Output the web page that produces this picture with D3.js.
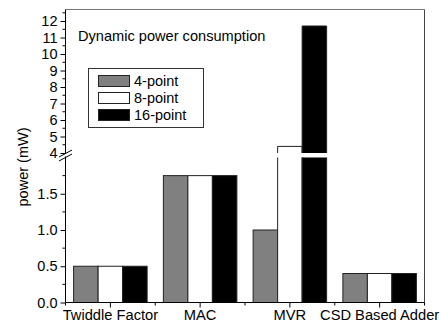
<!DOCTYPE html>
<meta charset="utf-8">
<head>
  <title>Dynamic power consumption</title>
</head>
<style>
  html, body {
    margin: 0;
    background: #fff;
    overflow: hidden;
    font-family: Arial, "Liberation Sans", Helvetica, sans-serif;
  }
  text { fill: #000; }
</style>
<body>
<svg id="chart" width="442" height="322"></svg>
<script src="https://d3js.org/d3.v7.min.js"></script>
<script>
var categories = ['Twiddle Factor', 'MAC', 'MVR', 'CSD Based Adder'];
var seriesNames = ['4-point', '8-point', '16-point'];
var seriesColors = ['#808080', '#ffffff', '#000000'];
// values per series, in category order
var values4 = [0.5, 1.75, 1.0, 0.4];
var values8 = [0.5, 1.75, 4.4, 0.4];
var values16 = [0.5, 1.75, 11.7, 0.4];
var lowTicks = [0, 0.5, 1.0, 1.5];
var highTicks = [4, 5, 6, 7, 8, 9, 10, 11, 12];

var series = [values4, values8, values16];

var svg = d3.select('#chart');
var plotL = 65.5, plotR = 424.5, plotB = 302.5, plotT = 9.5;

// broken y axis: lower part 0..2, upper part 4..12.7
var yLow = d3.scaleLinear().domain([0, 2]).range([plotB, 157.5]);
var yHigh = d3.scaleLinear().domain([4, 12.7]).range([153, plotT]);

var x = d3.scaleBand().domain(categories).range([plotL, plotR]);
var groupW = 73.5;
var inner = d3.scaleBand().domain(d3.range(series.length)).range([0, groupW]);

// frame
svg.append('line').attr('x1', plotL).attr('x2', plotR).attr('y1', plotT).attr('y2', plotT)
  .attr('stroke', '#777');
svg.append('line').attr('x1', plotR).attr('x2', plotR).attr('y1', plotT).attr('y2', plotB)
  .attr('stroke', '#444');

// bars
var g = svg.append('g');
series.forEach(function(vals, s) {
  vals.forEach(function(v, i) {
    var x0 = x(categories[i]) + (x.bandwidth() - groupW) / 2 + inner(s);
    var x1 = x0 + inner.bandwidth();
    var fill = seriesColors[s];
    if (v <= 2) {
      g.append('rect').attr('x', x0).attr('y', yLow(v))
        .attr('width', x1 - x0).attr('height', yLow(0) - yLow(v))
        .attr('fill', fill).attr('stroke', '#222').attr('stroke-width', 1);
    } else {
      // lower piece, open at top
      g.append('rect').attr('x', x0).attr('y', yLow(2))
        .attr('width', x1 - x0).attr('height', yLow(0) - yLow(2))
        .attr('fill', fill);
      g.append('path')
        .attr('d', 'M' + x0 + ',' + yLow(2) + 'V' + yLow(0) + 'H' + x1 + 'V' + yLow(2))
        .attr('fill', 'none').attr('stroke', '#222');
      // upper piece, open at bottom
      g.append('rect').attr('x', x0).attr('y', yHigh(v))
        .attr('width', x1 - x0).attr('height', yHigh(4) - yHigh(v))
        .attr('fill', fill);
      g.append('path')
        .attr('d', 'M' + x0 + ',' + yHigh(4) + 'V' + yHigh(v) + 'H' + x1 + 'V' + yHigh(4))
        .attr('fill', 'none').attr('stroke', '#222');
    }
  });
});

// y axes
var axisLow = d3.axisLeft(yLow).tickValues(lowTicks).tickFormat(d3.format('.1f'))
  .tickSizeInner(5).tickSizeOuter(0).tickPadding(3);
var gl = svg.append('g').attr('transform', 'translate(' + plotL + ',0)').call(axisLow);
gl.select('.domain').remove();
svg.append('g').selectAll('line').data([0.25, 0.75, 1.25, 1.75]).join('line')
  .attr('x1', plotL - 3).attr('x2', plotL)
  .attr('y1', function(d) { return yLow(d); }).attr('y2', function(d) { return yLow(d); })
  .attr('stroke', '#000');

var axisHigh = d3.axisLeft(yHigh).tickValues(highTicks).tickFormat(d3.format('d'))
  .tickSizeInner(5).tickSizeOuter(0).tickPadding(3);
var gh = svg.append('g').attr('transform', 'translate(' + plotL + ',0)').call(axisHigh);
gh.select('.domain').remove();
svg.append('g').selectAll('line').data(d3.range(4.5, 12.6, 1)).join('line')
  .attr('x1', plotL - 3).attr('x2', plotL)
  .attr('y1', function(d) { return yHigh(d); }).attr('y2', function(d) { return yHigh(d); })
  .attr('stroke', '#000');

svg.selectAll('.tick text').attr('font-size', 14.5)
  .attr('font-family', 'Arial, "Liberation Sans", sans-serif');

// y axis line with break
svg.append('line').attr('x1', plotL).attr('x2', plotL).attr('y1', plotT).attr('y2', yHigh(4) + 1)
  .attr('stroke', '#000');
svg.append('line').attr('x1', plotL).attr('x2', plotL).attr('y1', yLow(2) - 1).attr('y2', plotB)
  .attr('stroke', '#000');
svg.append('path').attr('d', 'M59,157L72,150M59,161L72,154')
  .attr('stroke', '#000').attr('fill', 'none');

// x axis
var axisX = d3.axisBottom(x).tickSizeInner(5).tickSizeOuter(0).tickPadding(3);
var gx = svg.append('g').attr('transform', 'translate(0,' + plotB + ')').call(axisX);
gx.select('.domain').attr('d', 'M' + plotL + ',0H' + plotR);
gx.selectAll('.tick text').attr('font-size', 14.7).attr('dy', '0.68em')
  .attr('font-family', 'Arial, "Liberation Sans", sans-serif');
svg.append('g').selectAll('line').data(categories.concat([''])).join('line')
  .attr('x1', function(d, i) { return plotL + i * x.step(); })
  .attr('x2', function(d, i) { return plotL + i * x.step(); })
  .attr('y1', plotB).attr('y2', plotB + 3)
  .attr('stroke', '#000');

// y label
svg.append('text')
  .attr('transform', 'translate(28,167) rotate(-90)')
  .attr('text-anchor', 'middle')
  .attr('font-size', 14.5)
  .text('power (mW)');

// title
svg.append('text').attr('x', 78).attr('y', 41).attr('font-size', 14.6)
  .text('Dynamic power consumption');

// legend
var lg = svg.append('g');
lg.append('rect').attr('x', 88.5).attr('y', 68.5).attr('width', 115).attr('height', 59)
  .attr('fill', '#fff').attr('stroke', '#333');
seriesNames.forEach(function(name, i) {
  var cy = 81 + i * 17;
  lg.append('rect').attr('x', 98.5).attr('y', cy - 5.5).attr('width', 31).attr('height', 11)
    .attr('fill', seriesColors[i]).attr('stroke', '#222');
  lg.append('text').attr('x', 134).attr('y', cy + 5).attr('font-size', 14.5).text(name);
});
</script>
</body>
